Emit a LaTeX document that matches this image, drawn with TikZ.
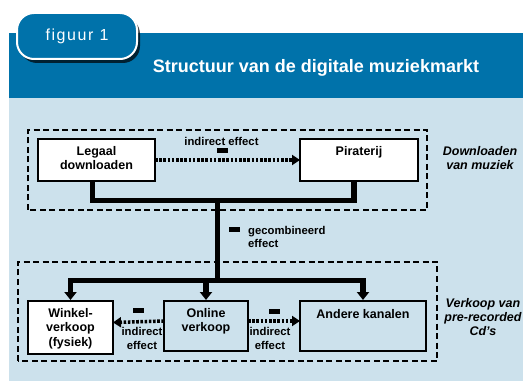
\documentclass[tikz,border=0pt]{standalone}
\usepackage{fontspec}
\setmainfont{Liberation Sans}
\newfontfamily\tabfont[LetterSpace=10]{Liberation Sans}
\usetikzlibrary{arrows.meta,shadows}
\definecolor{headblue}{RGB}{0,114,170}
\definecolor{panelblue}{RGB}{204,225,236}

\begin{document}
\begin{tikzpicture}[x=1pt,y=1pt,
    box/.style={draw,line width=2pt,fill=white,align=center,outer sep=0pt,inner ysep=8pt,anchor=north,font=\fontsize{12.5}{14}\selectfont\bfseries},
    note/.style={align=center,inner sep=0pt,anchor=base,font=\fontsize{11.3}{13}\selectfont\bfseries},
    side/.style={align=center,inner sep=0pt,anchor=base,font=\fontsize{12.5}{13.8}\selectfont\bfseries\itshape},
    minus/.style={fill=black,minimum width=11pt,minimum height=5pt,inner sep=0pt},
    group/.style={line width=2pt,dash pattern=on 6pt off 3.5pt},
    flow/.style={line width=5.5pt},
    effect/.style={line width=3.5pt,dash pattern=on 2.6pt off 1.6pt,-{Triangle[length=8pt,width=10pt]}}]
    \useasboundingbox (0,0) rectangle (523,381);
    \fill[panelblue] (9,0) rectangle (523,283);
    \fill[headblue] (9,283) rectangle (523,348);
    \node[draw=white,line width=2pt,fill=headblue,rounded corners=17pt,minimum width=120pt,minimum height=46pt,
        drop shadow={shadow xshift=3pt,shadow yshift=-4pt,opacity=.7,fill=black},
        text=white,font=\tabfont\fontsize{16}{16}\selectfont] (tab) at (77,345) {figuur 1};
    \node[text=white,font=\fontsize{18}{18}\selectfont\bfseries] (title) at (316,313) {Structuur van de digitale muziekmarkt};
    \draw[group] (28,171) rectangle (427,251);
    \draw[group] (18,20) rectangle (437,119);
    \node[box,minimum width=117pt,text height=23pt,text depth=3pt] (leg) at (96.5,242) {Legaal\\downloaden};
    \node[box,minimum width=118pt,text height=9pt,text depth=17pt] (pir) at (359,242) {Piraterij};
    \node[box,minimum width=85pt,text height=37pt,text depth=-3pt] (win) at (70.5,80) {Winkel-\\verkoop\\(fysiek)};
    \node[box,fill=panelblue,line width=1.6pt,minimum width=84pt,text height=23pt,text depth=11pt] (onl) at (206,80) {Online\\verkoop};
    \node[box,fill=panelblue,line width=1.6pt,minimum width=126pt,text height=9pt,text depth=25pt] (and) at (363,80) {Andere kanalen};
    \coordinate (join) at (217.5,180.5);
    \coordinate (split) at (217.5,100.5);
    \draw[flow] ([xshift=-4pt]leg.south) |- (join) -| ([xshift=-5pt]pir.south);
    \draw[flow] (join) -- (split);
    \draw[flow,-{Triangle[length=8pt,width=12pt]},shorten >=1pt] (split) -| (win.north);
    \draw[flow,-{Triangle[length=8pt,width=12pt]},shorten >=1pt] (split) -| (onl.north);
    \draw[flow,-{Triangle[length=8pt,width=12pt]},shorten >=1pt] (split) -| (and.north);
    \draw[effect] (leg.east) -- (pir.west);
    \draw[effect] ([yshift=5pt]onl.west) -- ([yshift=5pt]win.east);
    \draw[effect] ([yshift=5pt]onl.east) -- ([yshift=5pt]and.west);
    \node[note] (ie1) at (221.5,235) {indirect effect};
    \node[minus] (m1) at (222.5,230.5) {};
    \node[minus] (m2) at (234,151.5) {};
    \node[note,align=left,anchor=base west] (comb) at (248,133) {gecombineerd\\effect};
    \node[minus] (m3) at (138.5,70.5) {};
    \node[minus] (m4) at (274,70) {};
    \node[note] (ie2) at (142,32) {indirect\\effect};
    \node[note] (ie3) at (270,32) {indirect\\effect};
    \node[side] (dl) at (480,211.5) {Downloaden\\van muziek};
    \node[side] (vk) at (483,45.5) {Verkoop van\\pre-recorded\\Cd's};
\end{tikzpicture}
\end{document}
